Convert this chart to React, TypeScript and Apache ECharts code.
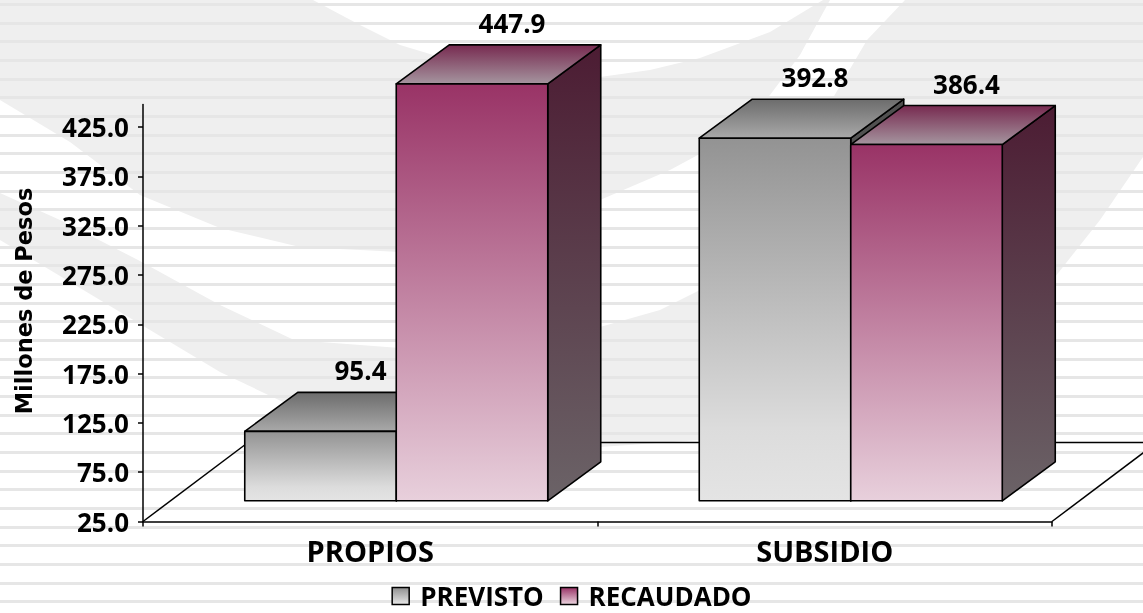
import { useEffect, useRef } from 'react';
import * as echarts from 'echarts';

const categories = ['PROPIOS', 'SUBSIDIO'];
const seriesNames = ['PREVISTO', 'RECAUDADO'];
const previsto = [95.4, 392.8];
const recaudado = [447.9, 386.4];
const yTickValues = [25, 75, 125, 175, 225, 275, 325, 375, 425];
const Y_MIN = 25;
const Y_MAX = 448;
const yAxisTitle = 'Millones de Pesos';

const FONT = 'Open Sans';
const BAR_FRONT = [26, -20.7];
const BAR_DEPTH = [53, -39];
const FLOOR_DEPTH = [105, -79];

const lg = (stops: [number, string][]) =>
  new echarts.graphic.LinearGradient(0, 0, 0, 1, stops.map(([offset, color]) => ({ offset, color })));

const STYLES = [
  {
    front: [[0, '#939393'], [0.8, '#dcdcdc'], [1, '#e4e4e4']] as [number, string][],
    top: [[0, '#6c6c6c'], [1, '#a9a9a9']] as [number, string][],
    side: [[0, '#4f4f4f'], [1, '#6a6a6a']] as [number, string][],
    legend: [[0, '#8f8f8f'], [1, '#e8e8e8']] as [number, string][],
  },
  {
    front: [[0, '#993366'], [1, '#e8d0dc']] as [number, string][],
    top: [[0, '#772a50'], [1, '#a5959f']] as [number, string][],
    side: [[0, '#4c1c33'], [1, '#6b6367']] as [number, string][],
    legend: [[0, '#993366'], [1, '#ecd6e0']] as [number, string][],
  },
];

// background watermark outlines (decorative)
const bgGray = [[0, 0], [1143, 0], [1143, 157], [1100, 220], [1055, 277], [1000, 330], [950, 370], [880, 400], [800, 420], [700, 440], [600, 447], [520, 447], [450, 443], [380, 430], [300, 410], [220, 372], [150, 330], [70, 282], [0, 240]];
const bgBand = [[0, 100], [70, 142], [140, 195], [220, 228], [300, 247], [400, 252], [500, 238], [600, 200], [670, 170], [720, 143], [770, 95], [800, 55], [830, 0], [905, 0], [867, 40], [820, 120], [770, 215], [720, 280], [660, 310], [600, 327], [500, 345], [400, 348], [294, 340], [220, 305], [138, 260], [60, 220], [0, 193]];
const bgLens = [[313, 0], [360, 25], [400, 45], [450, 60], [500, 70], [550, 76], [600, 77], [650, 70], [700, 58], [770, 32], [823, 0]];

function buildGraphic() {
  const els: any[] = [
    { type: 'rect', z: -20, silent: true, shape: { x: 0, y: 0, width: 1143, height: 613 }, style: { fill: '#ffffff' } },
    { type: 'polygon', z: -19, silent: true, shape: { points: bgGray }, style: { fill: '#efefef' } },
    { type: 'polygon', z: -18, silent: true, shape: { points: bgBand }, style: { fill: '#ffffff' } },
    { type: 'polygon', z: -18, silent: true, shape: { points: bgLens }, style: { fill: '#ffffff' } },
  ];
  for (let y = 3; y < 613; y += 18.67) {
    els.push({ type: 'rect', z: -17, silent: true, shape: { x: 0, y: Math.round(y), width: 1143, height: 3 }, style: { fill: '#e6e6e6' } });
  }
  els.push({
    type: 'text', z: 5, x: 24, y: 301, rotation: Math.PI / 2,
    style: { text: yAxisTitle, fontFamily: 'DejaVu Sans', fontWeight: 'bold', fontSize: 22.5, fill: '#000', align: 'center', verticalAlign: 'middle' },
  });
  return els;
}

const renderBar = (si: number) => (params: any, api: any) => {
  const cat = api.value(0);
  const val = api.value(1);
  const band = api.size([1, 0])[0];
  const w = band / 3;
  const top = api.coord([cat, val]);
  const base = api.coord([cat, Y_MIN]);
  const x0 = top[0] - w + si * w + BAR_FRONT[0];
  const x1 = x0 + w;
  const yt = top[1] + BAR_FRONT[1];
  const yb = base[1] + BAR_FRONT[1];
  const [dx, dy] = BAR_DEPTH;
  const st = STYLES[si];
  const stroke = { stroke: '#000', lineWidth: 1.6, lineJoin: 'round' };
  return {
    type: 'group',
    children: [
      { type: 'polygon', shape: { points: [[x1, yt], [x1 + dx, yt + dy], [x1 + dx, yb + dy], [x1, yb]] }, style: { fill: lg(st.side), ...stroke } },
      { type: 'polygon', shape: { points: [[x0, yt], [x0 + dx, yt + dy], [x1 + dx, yt + dy], [x1, yt]] }, style: { fill: lg(st.top), ...stroke } },
      { type: 'rect', shape: { x: x0, y: yt, width: w, height: yb - yt }, style: { fill: lg(st.front), ...stroke } },
      {
        type: 'text',
        style: { text: Number(val).toFixed(1), x: (x0 + x1) / 2 + 40, y: yt + dy - 22, align: 'center', verticalAlign: 'middle', fontFamily: FONT, fontWeight: 'bold', fontSize: 26, fill: '#000' },
      },
    ],
  };
};

const renderFloor = (params: any, api: any) => {
  const band = api.size([1, 0])[0];
  const l = api.coord([0, Y_MIN]);
  const r = api.coord([categories.length - 1, Y_MIN]);
  const xl = l[0] - band / 2;
  const xr = r[0] + band / 2;
  const y0 = l[1];
  const [fx, fy] = FLOOR_DEPTH;
  const ls = { stroke: '#000', lineWidth: 1.5 };
  return {
    type: 'group',
    children: [
      { type: 'line', shape: { x1: xl, y1: y0, x2: xl + fx, y2: y0 + fy }, style: ls },
      { type: 'line', shape: { x1: xl + fx, y1: y0 + fy, x2: xr + fx, y2: y0 + fy }, style: ls },
      { type: 'line', shape: { x1: xr, y1: y0, x2: xr + fx, y2: y0 + fy }, style: ls },
    ],
  };
};

export default function App() {
  const ref = useRef<HTMLDivElement>(null);
  useEffect(() => {
    if (!ref.current) return;
    const chart = echarts.init(ref.current, null, { renderer: 'svg' });
    const seriesData = [previsto, recaudado];
    chart.setOption({
      animation: false,
      graphic: buildGraphic(),
      grid: { left: 143, right: 91, top: 104.5, bottom: 91.5 },
      legend: {
        data: seriesNames,
        left: 'center',
        top: 583,
        padding: 0,
        icon: 'rect',
        itemWidth: 17,
        itemHeight: 17,
        itemGap: 16,
        textStyle: { fontFamily: FONT, fontWeight: 'bold', fontSize: 26, lineHeight: 24, color: '#000', padding: [0, 0, 0, 6] },
        itemStyle: { borderColor: '#000', borderWidth: 1.5 },
      },
      xAxis: {
        type: 'category',
        data: categories,
        axisLine: { lineStyle: { color: '#000', width: 1.5 } },
        axisTick: { show: true, length: 5, lineStyle: { color: '#000', width: 1.5 } },
        axisLabel: { fontFamily: FONT, fontWeight: 'bold', fontSize: 29, color: '#000', margin: 14 },
        splitLine: { show: false },
      },
      yAxis: {
        type: 'value',
        min: Y_MIN,
        max: Y_MAX,
        axisLine: { show: true, lineStyle: { color: '#000', width: 1.5 } },
        axisTick: { show: true, length: 5, customValues: yTickValues, lineStyle: { color: '#000', width: 1.5 } },
        axisLabel: { customValues: yTickValues, formatter: (v: number) => v.toFixed(1), fontFamily: FONT, fontWeight: 'bold', fontSize: 26, color: '#000', margin: 14 },
        splitLine: { show: false },
      },
      series: [
        { type: 'custom', name: 'floor', renderItem: renderFloor, data: [[0, Y_MIN]], silent: true, z: 1 },
        ...seriesNames.map((name, si) => ({
          type: 'custom',
          name,
          renderItem: renderBar(si),
          itemStyle: { color: lg(STYLES[si].legend) },
          data: seriesData[si].map((v, i) => [i, v]),
          encode: { x: 0, y: 1 },
          z: 2,
        })),
      ],
    });
    return () => chart.dispose();
  }, []);
  return <div ref={ref} style={{ position: 'fixed', left: 0, top: 0, width: 1143, height: 613 }} />;
}
